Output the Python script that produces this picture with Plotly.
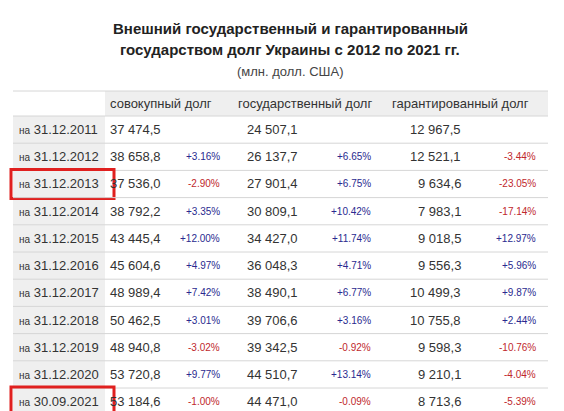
import plotly.graph_objects as go

dates = ["31.12.2011", "31.12.2012", "31.12.2013", "31.12.2014", "31.12.2015", "31.12.2016",
         "31.12.2017", "31.12.2018", "31.12.2019", "31.12.2020", "30.09.2021"]
total = ["37 474,5", "38 658,8", "37 536,0", "38 792,2", "43 445,4", "45 604,6",
         "48 989,4", "50 462,5", "48 940,8", "53 720,8", "53 184,6"]
total_pct = ["", "+3.16%", "-2.90%", "+3.35%", "+12.00%", "+4.97%",
             "+7.42%", "+3.01%", "-3.02%", "+9.77%", "-1.00%"]
state = ["24 507,1", "26 137,7", "27 901,4", "30 809,1", "34 427,0", "36 048,3",
         "38 490,1", "39 706,6", "39 342,5", "44 510,7", "44 471,0"]
state_pct = ["", "+6.65%", "+6.75%", "+10.42%", "+11.74%", "+4.71%",
             "+6.77%", "+3.16%", "-0.92%", "+13.14%", "-0.09%"]
guar = ["12 967,5", "12 521,1", "9 634,6", "7 983,1", "9 018,5", "9 556,3",
        "10 499,3", "10 755,8", "9 598,3", "9 210,1", "8 713,6"]
guar_pct = ["", "-3.44%", "-23.05%", "-17.14%", "+12.97%", "+5.96%",
            "+9.87%", "+2.44%", "-10.76%", "-4.04%", "-5.39%"]
headers = ["совокупный долг", "государственный долг", "гарантированный долг"]
highlight = ["31.12.2013", "30.09.2021"]

W, H = 564, 411
FONT = "Liberation Sans, Arial, sans-serif"
TXT = "#333333"
GREY = "#efefef"
LINE = "#d6d6d6"
y0, rh = 108, 27.2

fig = go.Figure()
shapes = []
ann = []

# pixel -> paper coordinates
px = lambda x: x / W
py = lambda y: 1 - y / H

def a(x, y, text, anchor="left", size=13, color=TXT):
    ann.append(dict(x=px(x), y=py(y), xref="paper", yref="paper", text=text, xanchor=anchor,
                    yanchor="middle", showarrow=False, font=dict(family=FONT, size=size, color=color)))

def rect(x0, x1, ya, yb, **kw):
    shapes.append(dict(type="rect", xref="paper", yref="paper", x0=px(x0), x1=px(x1),
                       y0=py(ya), y1=py(yb), **kw))

def hline(y):
    shapes.append(dict(type="line", xref="paper", yref="paper", x0=px(5), x1=px(540),
                       y0=py(y), y1=py(y), line=dict(color=LINE, width=1)))

# header
rect(97, 540, 83, y0, fillcolor=GREY, line_width=0, layer="below")
hline(83)
for x, h in zip([100, 228, 382], headers):
    a(x, 95.5, h)

def pct_color(p):
    return "#2a2a8f" if p.startswith("+") else "#c0282d"

for i, d in enumerate(dates):
    top = y0 + i * rh
    yc = top + rh / 2
    rect(5, 97, top, top + rh, fillcolor=GREY, line_width=0, layer="below")
    hline(top)
    a(9, yc, "<span style='font-size:10px'>на</span> " + d)
    a(100, yc, total[i])
    a(292, yc, state[i], "right")
    a(455, yc, guar[i], "right")
    for x, p in [(214, total_pct[i]), (365, state_pct[i]), (530, guar_pct[i])]:
        if p:
            a(x, yc, p, "right", 10, pct_color(p))
    if d in highlight:
        rect(3, 106, top - 1, top + rh + 1, line=dict(color="#e0201f", width=3))
hline(y0 + len(dates) * rh)

a(282, 20, "<b>Внешний государственный и гарантированный</b>", "center", 15, "#222")
a(282, 42, "<b>государством долг Украины с 2012 по 2021 гг.</b>", "center", 15, "#222")
a(282, 63, "(млн. долл. США)", "center", 13, "#444")

fig.update_layout(
    width=W, height=H, margin=dict(l=0, r=0, t=0, b=0),
    paper_bgcolor="white", plot_bgcolor="white",
    xaxis=dict(visible=False, fixedrange=True),
    yaxis=dict(visible=False, fixedrange=True),
    shapes=shapes, annotations=ann, showlegend=False,
)
fig.write_html("out.html")
